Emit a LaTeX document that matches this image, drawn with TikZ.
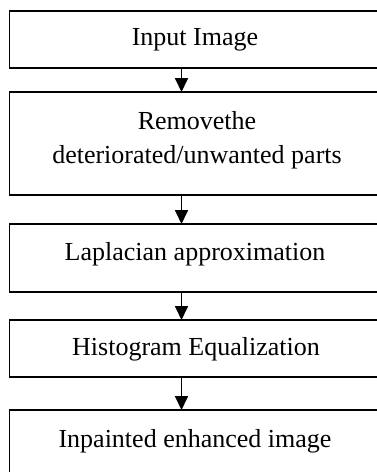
\documentclass[tikz,border=0pt]{standalone}
\usepackage{fontspec}
\setmainfont{Liberation Serif}
\usetikzlibrary{arrows.meta}
\begin{document}
\begin{tikzpicture}[x=1pt,y=-1pt,
  box/.style={rectangle, minimum width=400pt, inner sep=0pt, outer sep=0pt},
  side/.style={draw=black, line width=1.8pt, line join=miter},
  lbl/.style={font=\fontsize{26pt}{34pt}\selectfont, inner sep=0pt, align=center},
  arr/.style={line width=1.8pt, -{Triangle[width=13pt,length=14pt]}}]
\useasboundingbox (0,0) rectangle (377,472);
\clip (0,0) rectangle (377,472);
% boxes (right side lies beyond the picture edge)
\node[box, minimum height=57pt]  (b1) at (209.5,39.5) {};
\node[box, minimum height=103pt] (b2) at (209.5,143.5) {};
\node[box, minimum height=68pt]  (b3) at (209.5,258) {};
\node[box, minimum height=57pt]  (b4) at (209.5,348.5) {};
\node[box, minimum height=80pt]  (b5) at (209.5,450) {};
\foreach \b in {b1,b2,b3,b4,b5}
  \draw[side] (\b.north east) -- (\b.north west) -- (\b.south west) -- (\b.south east);
% labels
\node[lbl, anchor=base] (t1) at (195,45) {Input Image};
\node[lbl] (t2) at (197,140) {Removethe\\deteriorated/unwanted parts};
\node[lbl, anchor=base] (t3) at (195,260) {Laplacian approximation};
\node[lbl, anchor=base] (t4) at (196,355) {Histogram Equalization};
\node[lbl, anchor=base] (t5) at (195,447) {Inpainted enhanced image};
% arrows
\coordinate (ax) at (181.5,0);
\draw[arr] (b1.south -| ax) -- (b2.north -| ax);
\draw[arr] (b2.south -| ax) -- (b3.north -| ax);
\draw[arr] (b3.south -| ax) -- (b4.north -| ax);
\draw[arr] (b4.south -| ax) -- (b5.north -| ax);
\end{tikzpicture}
\end{document}
